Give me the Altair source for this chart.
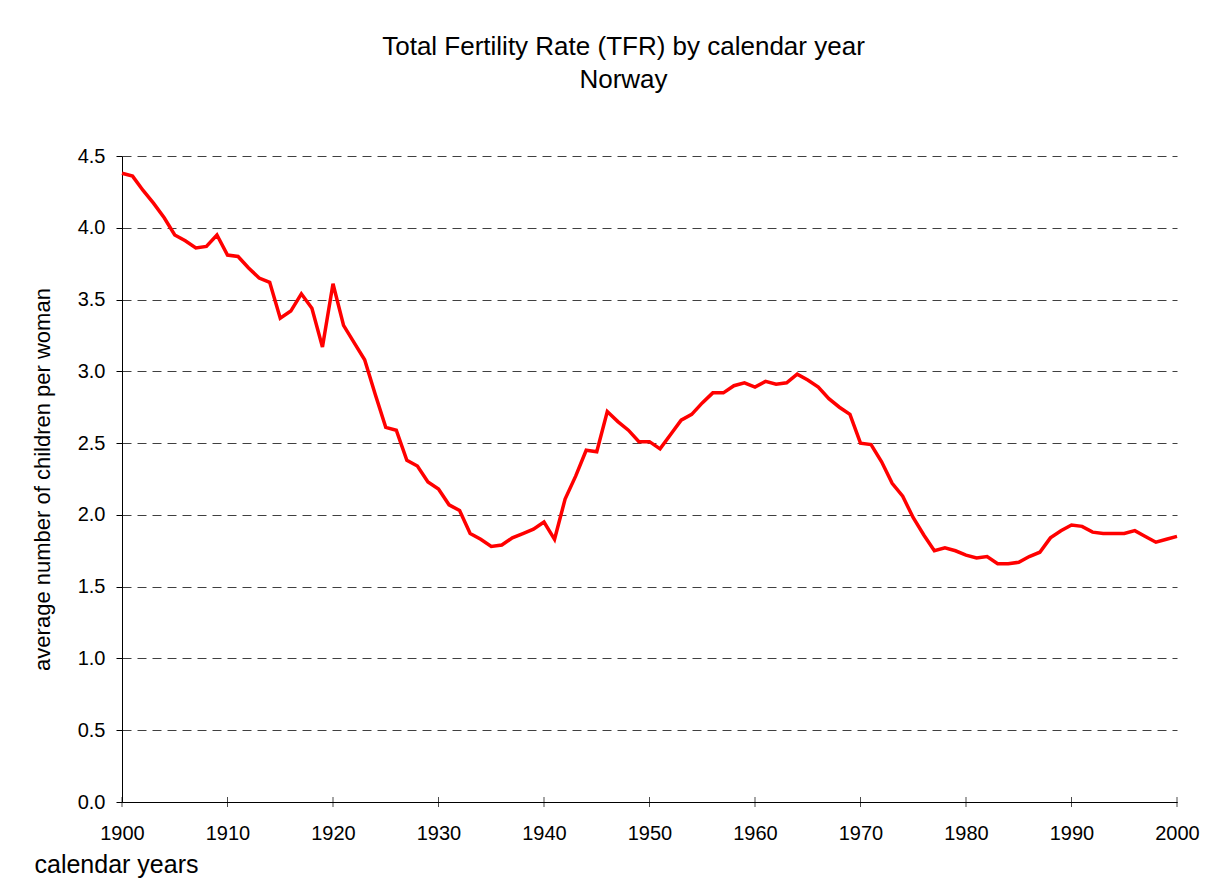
import altair as alt
import pandas as pd

years = list(range(1900, 2001))
tfr = [
    4.38, 4.36, 4.26, 4.17, 4.07, 3.95, 3.91, 3.86, 3.87, 3.95,
    3.81, 3.80, 3.72, 3.65, 3.62, 3.37, 3.42, 3.54, 3.44, 3.17,
    3.61, 3.32, 3.20, 3.08, 2.84, 2.61, 2.59, 2.38, 2.34, 2.23,
    2.18, 2.07, 2.03, 1.87, 1.83, 1.78, 1.79, 1.84, 1.87, 1.90,
    1.95, 1.83, 2.11, 2.27, 2.45, 2.44, 2.72, 2.65, 2.59, 2.51,
    2.51, 2.46, 2.56, 2.66, 2.70, 2.78, 2.85, 2.85, 2.90, 2.92,
    2.89, 2.93, 2.91, 2.92, 2.98, 2.94, 2.89, 2.81, 2.75, 2.70,
    2.50, 2.49, 2.37, 2.22, 2.13, 1.98, 1.86, 1.75, 1.77, 1.75,
    1.72, 1.70, 1.71, 1.66, 1.66, 1.67, 1.71, 1.74, 1.84, 1.89,
    1.93, 1.92, 1.88, 1.87, 1.87, 1.87, 1.89, 1.85, 1.81, 1.83,
    1.85,
]
x_tick_years = [1900, 1910, 1920, 1930, 1940, 1950, 1960, 1970, 1980, 1990, 2000]
y_tick_values = [0.0, 0.5, 1.0, 1.5, 2.0, 2.5, 3.0, 3.5, 4.0, 4.5]

title_lines = ["Total Fertility Rate (TFR) by calendar year", "Norway"]
x_title = "calendar years"
y_title = "average number of children per woman"

df = pd.DataFrame({"year": years, "tfr": tfr})
ticks_df = pd.DataFrame({"year": x_tick_years, "base": [0.0] * len(x_tick_years)})

FONT = "Liberation Sans"
x_scale = alt.Scale(domain=[1900, 2000], nice=False, zero=False)
y_scale = alt.Scale(domain=[0, 4.5], nice=False)

line = alt.Chart(df).mark_line(color="#ff0000", strokeWidth=3.5).encode(
    x=alt.X(
        "year:Q",
        scale=x_scale,
        axis=alt.Axis(
            values=x_tick_years,
            format="d",
            title=x_title,
            ticks=False,
            grid=False,
            domainColor="black",
            labelFontSize=20,
            labelPadding=21,
            labelColor="black",
            labelFont=FONT,
            labelFlush=False,
            labelOverlap=False,
            titleFont=FONT,
            titleFontSize=25,
            titleFontWeight="normal",
            titleColor="black",
            titleAnchor="start",
            titleAlign="left",
            titleX=-88,
            titleY=70,
            titleBaseline="alphabetic",
        ),
    ),
    y=alt.Y(
        "tfr:Q",
        scale=y_scale,
        axis=alt.Axis(
            values=y_tick_values,
            format=".1f",
            title=y_title,
            tickSize=6,
            tickColor="black",
            domainColor="black",
            grid=True,
            gridColor="#404040",
            gridDash=[9, 6],
            gridWidth=1,
            labelFontSize=20,
            labelPadding=11,
            labelColor="black",
            labelFont=FONT,
            labelFlush=False,
            titleFont=FONT,
            titleFontSize=22,
            titleFontWeight="normal",
            titleColor="black",
            titleAngle=-90,
            titleX=-80,
            titleY=323,
            titleAlign="center",
            titleBaseline="middle",
        ),
    ),
)

xticks = alt.Chart(ticks_df).mark_tick(color="black", size=10, thickness=1, orient="vertical").encode(
    x=alt.X("year:Q", scale=x_scale),
    y=alt.Y("base:Q", scale=y_scale),
)

chart = (
    alt.layer(line, xticks)
    .properties(
        width=1055,
        height=646,
        autosize=alt.AutoSizeParams(type="none"),
        padding={"left": 114, "top": 148, "right": 30, "bottom": 80},
        view=alt.ViewBackground(stroke="transparent", strokeWidth=0),
        title=alt.TitleParams(
            text=title_lines,
            font=FONT,
            fontSize=26,
            fontWeight="normal",
            color="black",
            anchor="middle",
            dx=-26,
            lineHeight=33,
            offset=53,
        ),
    )
    .configure_view(stroke="transparent", strokeWidth=0, strokeOpacity=0)
    .configure_axisX(grid=False)
    .configure(background="white")
)

chart.save("out.html", embed_options={"renderer": "svg", "actions": False})
